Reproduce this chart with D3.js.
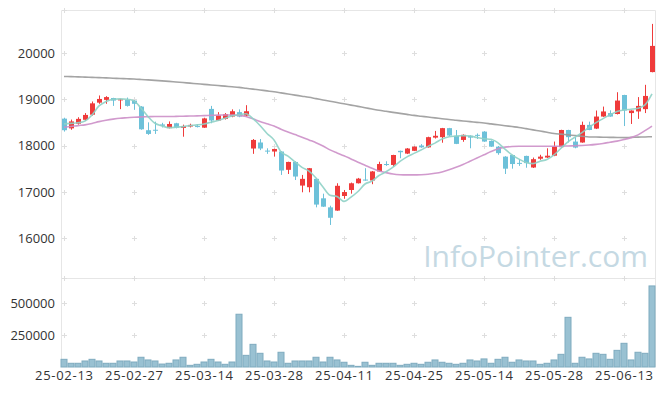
<!DOCTYPE html>
<html>
<head>
<meta charset="utf-8">
<script src="https://cdn.jsdelivr.net/npm/d3@7"></script>
<style>
  body { margin: 0; background: #fff; }
  svg { display: block; }
  text { font-family: "Open Sans", "Noto Sans", sans-serif; }
</style>
</head>
<body>
<svg id="chart" width="665" height="396"></svg>
<script>
const dates = [
  '25-02-13', '25-02-14', '25-02-17', '25-02-18', '25-02-19', '25-02-20', '25-02-21', '25-02-24', '25-02-25', '25-02-26',
  '25-02-27', '25-02-28', '25-03-04', '25-03-05', '25-03-06', '25-03-07', '25-03-10', '25-03-11', '25-03-12', '25-03-13',
  '25-03-14', '25-03-17', '25-03-18', '25-03-19', '25-03-20', '25-03-21', '25-03-24', '25-03-25', '25-03-26', '25-03-27',
  '25-03-28', '25-03-31', '25-04-01', '25-04-02', '25-04-03', '25-04-04', '25-04-07', '25-04-08', '25-04-09', '25-04-10',
  '25-04-11', '25-04-14', '25-04-15', '25-04-16', '25-04-17', '25-04-18', '25-04-21', '25-04-22', '25-04-23', '25-04-24',
  '25-04-25', '25-04-28', '25-04-29', '25-04-30', '25-05-02', '25-05-07', '25-05-08', '25-05-09', '25-05-12', '25-05-13',
  '25-05-14', '25-05-15', '25-05-16', '25-05-19', '25-05-20', '25-05-21', '25-05-22', '25-05-23', '25-05-26', '25-05-27',
  '25-05-28', '25-05-29', '25-05-30', '25-06-02', '25-06-04', '25-06-05', '25-06-09', '25-06-10', '25-06-11', '25-06-12',
  '25-06-13', '25-06-16', '25-06-17', '25-06-18', '25-06-19'
];

const open = [
  18580, 18370, 18470, 18555, 18665, 18925, 18985, 19025, 18975, 18985,
  18970, 18840, 18330, 18340, 18455, 18375, 18480, 18380, 18410, 18420,
  18385, 18790, 18540, 18575, 18625, 18720, 18645, 17935, 18065, 17890,
  17870, 17870, 17475, 17645, 17135, 17100, 17280, 16860, 16665, 16595,
  16910, 17040, 17185, 17265, 17245, 17440, 17600, 17580, 17885, 17825,
  17885, 18000, 17960, 18170, 18180, 18375, 18210, 18120, 18210, 18230,
  18300, 18100, 17975, 17760, 17795, 17625, 17775, 17525, 17715, 17740,
  17780, 17965, 18335, 18085, 18065, 18445, 18365, 18625, 18700, 18680,
  19090, 18700, 18735, 18785, 19585
];
const high = [
  18600, 18560, 18610, 18700, 18950, 19080, 19065, 19030, 19010, 19035,
  18980, 18850, 18500, 18515, 18490, 18520, 18490, 18450, 18470, 18460,
  18600, 18855, 18720, 18700, 18780, 18780, 18870, 18140, 18140, 17940,
  17930, 17880, 17650, 17660, 17365, 17515, 17290, 16960, 16700, 17185,
  17040, 17200, 17300, 17510, 17450, 17650, 17660, 17800, 17890, 17945,
  17980, 18030, 18190, 18315, 18380, 18380, 18335, 18240, 18220, 18260,
  18310, 18110, 17990, 17770, 17800, 17710, 17780, 17740, 17800, 17940,
  18085, 18340, 18340, 18180, 18515, 18515, 18755, 18840, 18760, 19150,
  19095, 18760, 19045, 19310, 20625
];
const low = [
  18300, 18340, 18450, 18530, 18645, 18900, 18900, 18855, 18785, 18840,
  18770, 18340, 18230, 18250, 18390, 18370, 18370, 18190, 18390, 18390,
  18380, 18480, 18530, 18560, 18610, 18610, 18630, 17820, 17900, 17820,
  17760, 17365, 17385, 17255, 16990, 16990, 16665, 16675, 16285, 16590,
  16850, 16960, 17180, 17240, 17165, 17430, 17560, 17540, 17725, 17815,
  17880, 17950, 17955, 18150, 18060, 18200, 18030, 18080, 17940, 18140,
  18080, 17970, 17800, 17385, 17500, 17560, 17520, 17515, 17690, 17730,
  17770, 17955, 18065, 17940, 18060, 18330, 18355, 18620, 18620, 18670,
  18420, 18465, 18575, 18700, 19580
];
const close = [
  18330, 18520, 18575, 18660, 18910, 19005, 19045, 18970, 18995, 18855,
  18900, 18350, 18250, 18330, 18425, 18465, 18385, 18420, 18445, 18405,
  18585, 18540, 18650, 18675, 18740, 18625, 18740, 18120, 17935, 17880,
  17925, 17460, 17645, 17330, 17280, 17510, 16725, 16680, 16440, 17130,
  16995, 17185, 17285, 17250, 17440, 17600, 17590, 17795, 17855, 17935,
  17975, 17960, 18180, 18210, 18375, 18215, 18035, 18230, 18170, 18210,
  18085, 17975, 17835, 17500, 17600, 17615, 17620, 17705, 17760, 17780,
  17975, 18335, 18180, 17955, 18445, 18335, 18625, 18735, 18625, 18970,
  18755, 18755, 18855, 19070, 20150
];
const volume = [
  60000, 29000, 29000, 47000, 60000, 47000, 29000, 29000, 47000, 47000,
  39000, 76000, 55000, 47000, 23000, 29000, 55000, 76000, 13000, 21000,
  39000, 60000, 39000, 21000, 39000, 412000, 91000, 177000, 107000, 47000,
  39000, 115000, 29000, 47000, 47000, 47000, 76000, 39000, 76000, 55000,
  37000, 13000, 5000, 37000, 13000, 29000, 29000, 29000, 13000, 21000,
  29000, 21000, 37000, 55000, 37000, 29000, 21000, 29000, 55000, 47000,
  63000, 29000, 60000, 76000, 37000, 55000, 47000, 47000, 21000, 29000,
  55000, 99000, 388000, 29000, 76000, 63000, 107000, 99000, 60000, 130000,
  185000, 55000, 115000, 107000, 633000
];

const ma5 = [
  18466, 18477, 18490, 18530, 18660, 18855, 18948, 19000, 19006, 19000,
  18963, 18806, 18624, 18481, 18423, 18386, 18395, 18408, 18430, 18445,
  18466, 18503, 18538, 18590, 18640, 18665, 18685, 18580, 18432, 18260,
  18120, 17864, 17769, 17648, 17528, 17445, 17298, 17105, 16927, 16897,
  16794, 16886, 17007, 17169, 17231, 17352, 17433, 17535, 17656, 17755,
  17830, 17904, 17981, 18052, 18140, 18188, 18203, 18213, 18205, 18172,
  18146, 18134, 18055, 17921, 17799, 17705, 17634, 17608, 17660, 17700,
  17797, 17941, 18080, 18180, 18280, 18390, 18495, 18580, 18661, 18735,
  18769, 18784, 18806, 18877, 19114
];
const ma20 = [
  18395, 18410, 18430, 18445, 18475, 18515, 18545, 18570, 18590, 18600,
  18610, 18618, 18622, 18625, 18625, 18625, 18628, 18632, 18636, 18640,
  18645, 18650, 18655, 18660, 18660, 18650, 18625, 18575, 18520, 18470,
  18420, 18350, 18290, 18235, 18180, 18120, 18060, 17990, 17905, 17840,
  17780, 17710, 17640, 17575, 17510, 17450, 17415, 17385, 17370, 17365,
  17365, 17370, 17380, 17400, 17430, 17475, 17530, 17590, 17660, 17730,
  17800, 17870, 17930, 17965, 17980, 17985, 17985, 17985, 17985, 17985,
  17985, 17985, 17990, 17995, 18000, 18010, 18025, 18045, 18070, 18095,
  18130, 18170, 18230, 18320, 18420
];
const ma120 = [
  19490, 19486, 19482, 19477, 19471, 19465, 19459, 19453, 19447, 19441,
  19435, 19426, 19416, 19406, 19396, 19385, 19372, 19359, 19346, 19333,
  19320, 19307, 19294, 19281, 19268, 19255, 19236, 19217, 19198, 19179,
  19160, 19136, 19112, 19088, 19064, 19040, 19012, 18984, 18956, 18928,
  18900, 18872, 18844, 18816, 18788, 18760, 18738, 18716, 18694, 18672,
  18650, 18632, 18614, 18596, 18578, 18560, 18545, 18530, 18515, 18500,
  18485, 18466, 18447, 18428, 18409, 18390, 18364, 18338, 18312, 18286,
  18260, 18245, 18230, 18215, 18200, 18185, 18182, 18179, 18176, 18173,
  18170, 18175, 18180, 18185, 18190
];

const priceTicks = [16000, 17000, 18000, 19000, 20000];
const volumeTicks = [250000, 500000];
const dateTicks = ['25-02-13', '25-02-27', '25-03-14', '25-03-28', '25-04-11', '25-04-25', '25-05-14', '25-05-28', '25-06-13'];

const plotLeft = 61;
const plotRight = 656;
const plotTop = 10;
const plotSplit = 278;
const plotBottom = 367;

const upColor = '#ef3b3b';
const downColor = '#6dc1d9';

const svg = d3.select('#chart');

const x = d3.scaleBand()
  .domain(dates)
  .range([plotLeft - 0.5, plotRight - 0.5]);
const cx = d => x(d) + x.bandwidth() / 2;

const y = d3.scaleLinear()
  .domain([15140, 20925])
  .range([plotSplit, plotTop]);

const yv = d3.scaleLinear()
  .domain([0, 695000])
  .range([plotBottom, plotSplit]);

// frame
const frame = svg.append('g')
  .attr('fill', 'none')
  .attr('stroke', '#e6e6e6')
  .attr('stroke-width', 1);
frame.append('path')
  .attr('d', `M${plotLeft + 0.5},${plotBottom}V${plotTop + 0.5}H${plotRight - 0.5}V${plotBottom}`);
frame.append('path')
  .attr('d', `M${plotLeft},${plotSplit + 0.5}H${plotRight}`);

// grid crosses
const gridX = dateTicks.map(cx);
const gridY = priceTicks.map(y).concat(volumeTicks.map(yv), [plotTop, plotSplit]);
const crosses = svg.append('g')
  .attr('stroke', '#dedede')
  .attr('stroke-width', 1);
gridX.forEach(gx => {
  gridY.forEach(gy => {
    const px = Math.round(gx) + 0.5;
    const py = Math.round(gy) + 0.5;
    crosses.append('path')
      .attr('d', `M${px - 2.5},${py}H${px + 2.5}M${px},${py - 2.5}V${py + 2.5}`);
  });
});

// watermark
svg.append('text')
  .attr('x', 648)
  .attr('y', 267)
  .attr('text-anchor', 'end')
  .attr('font-size', 30)
  .attr('fill', '#c5d9e3')
  .text('InfoPointer.com');

// volume bars
svg.append('g')
  .selectAll('rect')
  .data(dates)
  .join('rect')
  .attr('x', d => x(d) + 0.5)
  .attr('width', x.bandwidth() - 1)
  .attr('y', (d, i) => yv(volume[i]))
  .attr('height', (d, i) => plotBottom - yv(volume[i]))
  .attr('fill', '#99c1d2')
  .attr('stroke', '#7fabbf')
  .attr('stroke-width', 1);

// candles
const candles = svg.append('g')
  .selectAll('g')
  .data(dates)
  .join('g')
  .attr('fill', (d, i) => close[i] >= open[i] ? upColor : downColor)
  .attr('stroke', (d, i) => close[i] >= open[i] ? upColor : downColor);

candles.append('line')
  .attr('x1', d => Math.round(cx(d)) + 0.5)
  .attr('x2', d => Math.round(cx(d)) + 0.5)
  .attr('y1', (d, i) => y(high[i]))
  .attr('y2', (d, i) => y(low[i]))
  .attr('stroke-width', 1);

candles.append('rect')
  .attr('x', d => Math.round(cx(d)) - 2)
  .attr('width', 5)
  .attr('y', (d, i) => y(Math.max(open[i], close[i])))
  .attr('height', (d, i) => Math.max(1, Math.abs(y(open[i]) - y(close[i]))))
  .attr('stroke', 'none');

// moving averages
const line = d3.line()
  .x((v, i) => cx(dates[i]))
  .y(v => y(v))
  .curve(d3.curveMonotoneX);

[[ma120, '#9a9a9a'], [ma20, '#cc8fc8'], [ma5, '#8fd1c6']].forEach(([values, color]) => {
  svg.append('path')
    .datum(values)
    .attr('fill', 'none')
    .attr('stroke', color)
    .attr('stroke-width', 1.6)
    .attr('stroke-opacity', 0.9)
    .attr('d', line);
});

// axes
const styleAxis = g => {
  g.select('.domain').remove();
  g.selectAll('text')
    .attr('fill', '#333')
    .attr('font-size', 13);
};

svg.append('g')
  .attr('transform', `translate(${plotLeft},0)`)
  .call(d3.axisLeft(y).tickValues(priceTicks).tickSize(0).tickPadding(6).tickFormat(d3.format('d')))
  .call(styleAxis);

svg.append('g')
  .attr('transform', `translate(${plotLeft},0)`)
  .call(d3.axisLeft(yv).tickValues(volumeTicks).tickSize(0).tickPadding(6).tickFormat(d3.format('d')))
  .call(styleAxis);

// date labels are a little wider in the original (broad hyphens)
svg.append('g')
  .attr('transform', `translate(0,${plotBottom})`)
  .call(d3.axisBottom(x).tickValues(dateTicks).tickSize(0).tickPadding(4))
  .call(styleAxis)
  .selectAll('text')
  .attr('textLength', 58)
  .attr('lengthAdjust', 'spacing');
</script>
</body>
</html>
